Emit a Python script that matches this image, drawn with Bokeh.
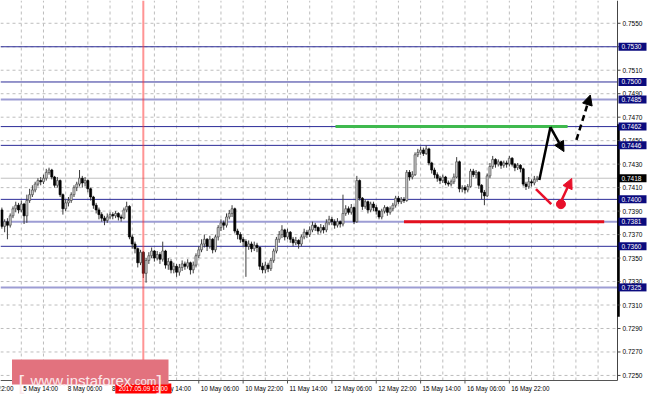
from bokeh.plotting import figure
from bokeh.models import Range1d, Arrow, NormalHead, ColumnDataSource
from bokeh.core.properties import value
from bokeh.embed import file_html
from bokeh.resources import INLINE

# ---------------- data (hourly candles, bar index = hour) ----------------
first_open = 0.7391
close = [0.7377,0.7381,0.7378,0.7386,0.7392,0.7395,0.7391,0.7396,0.7386,0.7399,
         0.7404,0.7408,0.7413,0.7416,0.7415,0.7418,0.7423,0.7425,0.7419,0.7412,
         0.7416,0.7404,0.7392,0.7397,0.7399,0.7404,0.7410,0.7413,0.7418,0.7414,
         0.7416,0.7409,0.7402,0.7395,0.7391,0.7387,0.7384,0.7382,0.7385,0.7387,
         0.7386,0.7388,0.7385,0.7384,0.7391,0.7394,0.7368,0.7362,0.7358,0.7346,
         0.7355,0.7337,0.7348,0.7352,0.7356,0.7350,0.7353,0.7349,0.7356,0.7344,
         0.7347,0.7340,0.7343,0.7338,0.7342,0.7345,0.7343,0.7346,0.7340,0.7344,
         0.7352,0.7357,0.7362,0.7366,0.7360,0.7366,0.7357,0.7368,0.7376,0.7380,
         0.7378,0.7385,0.7388,0.7392,0.7373,0.7370,0.7366,0.7364,0.7360,0.7362,
         0.7358,0.7361,0.7359,0.7343,0.7340,0.7344,0.7341,0.7348,0.7356,0.7366,
         0.7370,0.7374,0.7368,0.7372,0.7366,0.7363,0.7365,0.7362,0.7368,0.7372,
         0.7370,0.7374,0.7378,0.7376,0.7373,0.7376,0.7374,0.7380,0.7383,0.7381,
         0.7378,0.7381,0.7379,0.7388,0.7392,0.7389,0.7393,0.7381,0.7416,0.7401,
         0.7394,0.7398,0.7391,0.7396,0.7393,0.7390,0.7385,0.7390,0.7393,0.7389,
         0.7392,0.7395,0.7401,0.7398,0.7400,0.7399,0.7423,0.7419,0.7421,0.7438,
         0.7440,0.7442,0.7439,0.7443,0.7431,0.7425,0.7421,0.7418,0.7416,0.7419,
         0.7414,0.7413,0.7415,0.7419,0.7432,0.7409,0.7410,0.7408,0.7411,0.7424,
         0.7421,0.7423,0.7412,0.7406,0.7403,0.7420,0.7428,0.7434,0.7430,0.7432,
         0.7429,0.7431,0.7430,0.7435,0.7430,0.7427,0.7429,0.7426,0.7413,0.7411,
         0.7415,0.7414,0.7417,0.7418]
high = [0.7393,0.7383,0.7384,0.7388,0.7394,0.7398,0.7397,0.7399,0.7397,0.7404,
        0.7409,0.7412,0.7415,0.7418,0.7419,0.7421,0.7426,0.7427,0.7426,0.7420,
        0.7419,0.7417,0.7405,0.7400,0.7402,0.7406,0.7412,0.7415,0.7425,0.7420,
        0.7419,0.7417,0.7410,0.7403,0.7397,0.7393,0.7389,0.7386,0.7388,0.7389,
        0.7389,0.7390,0.7389,0.7387,0.7393,0.7398,0.7395,0.7370,0.7364,0.7359,
        0.7357,0.7356,0.7350,0.7355,0.7359,0.7357,0.7356,0.7355,0.7364,0.7357,
        0.7350,0.7349,0.7346,0.7345,0.7345,0.7348,0.7347,0.7349,0.7347,0.7347,
        0.7354,0.7360,0.7366,0.7370,0.7367,0.7369,0.7367,0.7370,0.7378,0.7383,
        0.7382,0.7388,0.7391,0.7395,0.7393,0.7375,0.7372,0.7368,0.7366,0.7365,
        0.7364,0.7364,0.7363,0.7360,0.7346,0.7347,0.7346,0.7350,0.7358,0.7368,
        0.7373,0.7378,0.7375,0.7375,0.7373,0.7368,0.7368,0.7366,0.7370,0.7375,
        0.7374,0.7377,0.7381,0.7380,0.7377,0.7379,0.7378,0.7383,0.7386,0.7385,
        0.7383,0.7384,0.7382,0.7404,0.7395,0.7394,0.7396,0.7394,0.7420,0.7417,
        0.7402,0.7400,0.7399,0.7398,0.7398,0.7395,0.7391,0.7392,0.7395,0.7394,
        0.7394,0.7397,0.7403,0.7403,0.7402,0.7402,0.7425,0.7425,0.7424,0.7440,
        0.7443,0.7445,0.7444,0.7446,0.7444,0.7432,0.7427,0.7423,0.7420,0.7421,
        0.7420,0.7416,0.7417,0.7422,0.7436,0.7433,0.7412,0.7412,0.7413,0.7426,
        0.7426,0.7425,0.7424,0.7413,0.7408,0.7422,0.7431,0.7437,0.7435,0.7434,
        0.7433,0.7433,0.7433,0.7437,0.7436,0.7431,0.7431,0.7430,0.7427,0.7415,
        0.7419,0.7417,0.7420,0.7420]
low = [0.7375,0.7372,0.7366,0.7376,0.7384,0.7389,0.7388,0.7389,0.7379,0.7380,
       0.7397,0.7402,0.7406,0.7411,0.7412,0.7413,0.7416,0.7421,0.7417,0.7410,
       0.7410,0.7402,0.7387,0.7390,0.7394,0.7397,0.7402,0.7407,0.7411,0.7410,
       0.7411,0.7406,0.7399,0.7392,0.7388,0.7383,0.7381,0.7378,0.7380,0.7383,
       0.7383,0.7384,0.7382,0.7381,0.7383,0.7389,0.7366,0.7358,0.7354,0.7342,
       0.7344,0.7333,0.7329,0.7345,0.7350,0.7347,0.7348,0.7345,0.7347,0.7341,
       0.7340,0.7337,0.7337,0.7334,0.7335,0.7339,0.7340,0.7341,0.7336,0.7337,
       0.7342,0.7350,0.7355,0.7359,0.7356,0.7358,0.7354,0.7355,0.7365,0.7373,
       0.7374,0.7376,0.7383,0.7385,0.7371,0.7366,0.7363,0.7360,0.7334,0.7357,
       0.7355,0.7356,0.7355,0.7340,0.7337,0.7337,0.7338,0.7339,0.7346,0.7354,
       0.7363,0.7367,0.7365,0.7366,0.7363,0.7360,0.7361,0.7358,0.7360,0.7366,
       0.7367,0.7368,0.7372,0.7373,0.7370,0.7371,0.7371,0.7372,0.7378,0.7378,
       0.7375,0.7376,0.7376,0.7377,0.7386,0.7387,0.7387,0.7379,0.7380,0.7399,
       0.7391,0.7392,0.7388,0.7389,0.7390,0.7387,0.7383,0.7383,0.7388,0.7386,
       0.7387,0.7390,0.7393,0.7396,0.7396,0.7397,0.7398,0.7416,0.7417,0.7420,
       0.7436,0.7438,0.7437,0.7438,0.7429,0.7422,0.7418,0.7415,0.7413,0.7414,
       0.7412,0.7411,0.7411,0.7413,0.7418,0.7406,0.7406,0.7405,0.7406,0.7410,
       0.7419,0.7418,0.7409,0.7400,0.7395,0.7402,0.7418,0.7426,0.7427,0.7428,
       0.7426,0.7427,0.7427,0.7428,0.7428,0.7424,0.7425,0.7423,0.7411,0.7408,
       0.7409,0.7411,0.7412,0.7415]

time_tick_bars = [-9, 7, 23, 39, 55, 71, 87, 103, 119, 135, 151, 167, 183]
time_tick_labels = ["4 May 22:00", "5 May 14:00", "8 May 06:00", "8 May 22:00",
                    "9 May 14:00", "10 May 06:00", "10 May 22:00", "11 May 14:00",
                    "12 May 06:00", "12 May 22:00", "15 May 14:00", "16 May 06:00",
                    "16 May 22:00"]
grid_bars = [7, 15, 23, 31, 39, 47, 55, 63, 71, 79, 87, 95, 103, 111, 119, 127, 135,
             143, 151, 159, 167, 175, 183, 191, 199, 207, 215]
price_ticks = [0.7250, 0.7270, 0.7290, 0.7310, 0.7330, 0.7350, 0.7370, 0.7390, 0.7410,
               0.7430, 0.7450, 0.7470, 0.7490, 0.7510, 0.7530, 0.7550]
price_tick_labels = ["0.7250", "0.7270", "0.7290", "0.7310", "0.7330", "0.7350",
                     "0.7370", "0.7390", "0.7410", "0.7430", "0.7450", "0.7470",
                     "0.7490", "0.7510", "0.7530", "0.7550"]

levels_dark = [0.7530, 0.7500, 0.7462, 0.7446, 0.7400, 0.7360]
levels_light = [0.7485, 0.7381, 0.7325]
current_price = 0.7418
marker_bar = 51
marker_text = "2017.05.09 10:00"

resistance_y = 0.7462
resistance_x = [120.3, 204.0]
support_y = 0.7381
support_x = [145.0, 217.2]

bull_path_x = [193.8, 197.8, 202.7]
bull_path_y = [0.74164, 0.74615, 0.74407]
bull_ext_x = [207.2, 212.2]
bull_ext_y = [0.74506, 0.74889]
bear_path_x = [192.6, 198.1]
bear_path_y = [0.74088, 0.73959]
bear_dot_x = [201.6]
bear_dot_y = [0.73959]
bear_arrow_x = [201.8, 205.5]
bear_arrow_y = [0.73990, 0.74178]

scale_bar_y = [0.7464, 0.7300]   # thick part of the price scale

# ---------------- layout constants ----------------
W, H = 647, 396          # canvas
CW, CH = 617, 380        # chart area (px)
X0, X_END = -0.5, 222.0  # bars across the chart area
Y_BOT, Y_TOP = 0.72457, 0.75694
PX_X = (X_END - X0) / CW
PX_Y = (Y_TOP - Y_BOT) / CH
FONT = value("Liberation Sans")

p = figure(width=W, height=H, output_backend="svg", toolbar_location=None,
           x_range=Range1d(X0, X0 + W * PX_X), y_range=Range1d(Y_TOP - H * PX_Y, Y_TOP),
           x_axis_location=None, y_axis_location=None,
           min_border_left=0, min_border_top=0, min_border_right=0, min_border_bottom=0,
           background_fill_color="white", border_fill_color="white",
           outline_line_color=None)
p.grid.visible = False

# ---- grid (dashed) ----
p.segment(x0=grid_bars, y0=[Y_BOT] * len(grid_bars), x1=grid_bars, y1=[Y_TOP] * len(grid_bars),
          line_color="#bdbdbd", line_dash="3 3", line_width=1)
p.segment(x0=[X0] * len(price_ticks), y0=price_ticks, x1=[X_END] * len(price_ticks), y1=price_ticks,
          line_color="#bdbdbd", line_dash="3 3", line_width=1)

# ---- horizontal levels ----
p.segment(x0=[X0], y0=[current_price], x1=[X_END], y1=[current_price], line_color="#c0c0c0", line_width=1)
p.segment(x0=[X0] * len(levels_dark), y0=levels_dark, x1=[X_END] * len(levels_dark), y1=levels_dark,
          line_color="#2c2c98", line_width=1)
p.segment(x0=[X0] * len(levels_light), y0=levels_light, x1=[X_END] * len(levels_light), y1=levels_light,
          line_color="#9d9dd4", line_width=2)

# ---- candles ----
bars = list(range(len(close)))
opens = [first_open] + close[:-1]
wsrc = ColumnDataSource(dict(x=bars, h=high, l=low))
p.segment(x0="x", y0="h", x1="x", y1="l", source=wsrc, line_color="#3c3c3c", line_width=1)
up = [i for i in bars if close[i] >= opens[i]]
dn = [i for i in bars if close[i] < opens[i]]
usrc = ColumnDataSource(dict(x=up, top=[close[i] for i in up], bottom=[opens[i] for i in up]))
dsrc = ColumnDataSource(dict(x=dn, top=[opens[i] for i in dn], bottom=[close[i] for i in dn]))
p.vbar(x="x", width=0.74, top="top", bottom="bottom", source=usrc,
       fill_color="#d2d2d2", line_color="#4a4a4a", line_width=0.7)
p.vbar(x="x", width=0.74, top="top", bottom="bottom", source=dsrc,
       fill_color="#000000", line_color="#000000", line_width=0.7)

# ---- vertical time marker ----
p.segment(x0=[marker_bar], y0=[Y_BOT], x1=[marker_bar], y1=[Y_TOP],
          line_color="#ff2a2a", line_alpha=0.5, line_width=2)

# ---- resistance / support segments ----
p.segment(x0=[resistance_x[0]], y0=[resistance_y], x1=[resistance_x[1]], y1=[resistance_y],
          line_color="#3fb94e", line_width=3)
p.segment(x0=[support_x[0]], y0=[support_y], x1=[support_x[1]], y1=[support_y],
          line_color="#e3101e", line_width=3)

# ---- forecast arrows ----
p.line(x=bull_path_x[:2], y=bull_path_y[:2], line_color="black", line_width=2.5)
p.add_layout(Arrow(end=NormalHead(size=10, fill_color="black", line_color="black"),
                   x_start=bull_path_x[1], y_start=bull_path_y[1],
                   x_end=bull_path_x[2], y_end=bull_path_y[2],
                   line_color="black", line_width=2.5))
p.add_layout(Arrow(end=NormalHead(size=10, fill_color="black", line_color="black"),
                   x_start=bull_ext_x[0], y_start=bull_ext_y[0],
                   x_end=bull_ext_x[1], y_end=bull_ext_y[1],
                   line_color="black", line_width=2.5, line_dash="6 4"))
p.line(x=bear_path_x, y=bear_path_y, line_color="#e8102a", line_width=2.5)
p.scatter(x=bear_dot_x, y=bear_dot_y, size=9, fill_color="#e8102a", line_color="#e8102a")
p.add_layout(Arrow(end=NormalHead(size=10, fill_color="#e8102a", line_color="#e8102a"),
                   x_start=bear_arrow_x[0], y_start=bear_arrow_y[0],
                   x_end=bear_arrow_x[1], y_end=bear_arrow_y[1],
                   line_color="#e8102a", line_width=2.5))

# ---- price scale (right) ----
p.segment(x0=[X_END], y0=[Y_BOT], x1=[X_END], y1=[Y_TOP], line_color="#444444", line_width=1)
p.segment(x0=[X_END + PX_X], y0=[scale_bar_y[0]], x1=[X_END + PX_X], y1=[scale_bar_y[1]],
          line_color="black", line_width=2.5)
p.segment(x0=[X_END] * len(price_ticks), y0=price_ticks,
          x1=[X_END + 3 * PX_X] * len(price_ticks), y1=price_ticks,
          line_color="#444444", line_width=1)
p.text(x=[X_END] * len(price_ticks), y=price_ticks, text=price_tick_labels, x_offset=5,
       text_align="left", text_baseline="middle", text_font=FONT,
       text_font_size="6.5px", text_color="#000000")

lv_all = levels_dark + levels_light
box_x = X_END + 15 * PX_X
p.rect(x=[box_x] * len(lv_all), y=lv_all, width=28, height=8,
       width_units="screen", height_units="screen", fill_color="#0b0b7e", line_color=None)
p.text(x=[X_END] * len(lv_all), y=lv_all, text=[f"{v:.4f}" for v in lv_all], x_offset=4,
       text_align="left", text_baseline="middle", text_font=FONT,
       text_font_size="6.5px", text_color="white")
p.rect(x=[box_x], y=[current_price], width=28, height=8,
       width_units="screen", height_units="screen", fill_color="#000000", line_color=None)
p.text(x=[X_END], y=[current_price], text=[f"{current_price:.4f}"], x_offset=4,
       text_align="left", text_baseline="middle", text_font=FONT,
       text_font_size="6.5px", text_color="white")

# ---- time scale (bottom) ----
p.segment(x0=[X0], y0=[Y_BOT], x1=[X_END], y1=[Y_BOT], line_color="#555555", line_width=1)
p.segment(x0=time_tick_bars, y0=[Y_BOT] * len(time_tick_bars),
          x1=time_tick_bars, y1=[Y_BOT - 3 * PX_Y] * len(time_tick_bars),
          line_color="#555555", line_width=1)
p.text(x=time_tick_bars, y=[Y_BOT] * len(time_tick_bars), text=time_tick_labels,
       x_offset=2, y_offset=4, text_align="left", text_baseline="top",
       text_font=FONT, text_font_size="6.3px", text_color="#000000")
p.rect(x=[marker_bar], y=[Y_BOT - 8 * PX_Y], width=56, height=10,
       width_units="screen", height_units="screen", fill_color="#ff0000", line_color=None)
p.text(x=[marker_bar], y=[Y_BOT - 8 * PX_Y], text=[marker_text],
       text_align="center", text_baseline="middle", text_font=FONT,
       text_font_size="6.3px", text_color="white")

# ---- watermark ----
wm_left, wm_right, wm_top, wm_bottom = 11.5, 168.0, 21.0, -4.0   # px rel. chart bottom-left
p.rect(x=[X0 + (wm_left + wm_right) / 2 * PX_X], y=[Y_BOT + (wm_top + wm_bottom) / 2 * PX_Y],
       width=wm_right - wm_left, height=wm_top - wm_bottom,
       width_units="screen", height_units="screen", fill_color="#e2727e", line_color=None)
wm_text = ["[", "www.instaforex", ".com", "]"]
wm_px = [18, 30, 131, 156]
wm_dy = [2, 0, 0, 2]
wm_size = ["20px", "15px", "11.5px", "20px"]
for t, px, dy, fs in zip(wm_text, wm_px, wm_dy, wm_size):
    p.text(x=[X0 + px * PX_X], y=[Y_BOT], text=[t], y_offset=dy,
           text_align="left", text_baseline="alphabetic", text_font=FONT,
           text_font_size=fs, text_color="#fbe8ea")

open("out.html", "w").write(file_html(p, INLINE))
